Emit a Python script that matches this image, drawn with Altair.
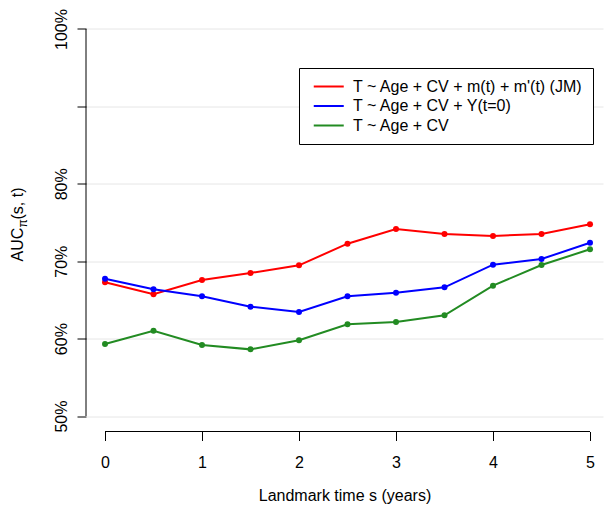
import altair as alt
import pandas as pd

landmark = [0, 0.5, 1, 1.5, 2, 2.5, 3, 3.5, 4, 4.5, 5]
auc_jm = [67.27, 65.72, 67.57, 68.48, 69.47, 72.26, 74.16, 73.51, 73.26, 73.51, 74.77]
auc_y0 = [67.74, 66.37, 65.47, 64.12, 63.44, 65.47, 65.93, 66.63, 69.55, 70.28, 72.39]
auc_base = [59.30, 61.02, 59.17, 58.61, 59.78, 61.85, 62.14, 63.01, 66.84, 69.51, 71.54]

series_names = [
    "T ~ Age + CV + m(t) + m'(t) (JM)",
    "T ~ Age + CV + Y(t=0)",
    "T ~ Age + CV",
]
series_colors = ["#ff0000", "#0000ff", "#228b22"]
y_ticks = [50, 60, 70, 80, 90, 100]
x_ticks = [0, 1, 2, 3, 4, 5]

rows = []
for name, vals in zip(series_names, [auc_jm, auc_y0, auc_base]):
    for s, v in zip(landmark, vals):
        rows.append({"s": s, "auc": v, "model": name})
df = pd.DataFrame(rows)

FONT = "Liberation Sans"
FS = 16
W, H = 517, 418

xscale = alt.Scale(domain=[-0.196, 5.134], nice=False, zero=False)
yscale = alt.Scale(domain=[48, 102], nice=False, zero=False)

color = alt.Color(
    "model:N",
    scale=alt.Scale(domain=series_names, range=series_colors),
    legend=alt.Legend(
        title=None,
        orient="none",
        legendX=213,
        legendY=54.5,
        fillColor="white",
        strokeColor="black",
        padding=10,
        symbolType="M-0.5,0L3.5,0",
        symbolSize=225,
        symbolStrokeWidth=2,
        labelFont=FONT,
        labelFontSize=FS,
        labelColor="black",
        rowPadding=2.5,
        labelOffset=27,
        labelLimit=400,
    ),
)

base = alt.Chart(df)

lines = base.mark_line(strokeWidth=2).encode(
    x=alt.X(
        "s:Q",
        scale=xscale,
        axis=alt.Axis(
            values=x_ticks,
            format="d",
            domain=False,
            grid=False,
            tickSize=9,
            tickColor="black",
            labelFont=FONT,
            labelFontSize=FS,
            labelColor="black",
            labelPadding=14,
            title="Landmark time s (years)",
            titleFont=FONT,
            titleFontSize=FS,
            titleFontWeight="normal",
            titleColor="black",
            titlePadding=17,
        ),
    ),
    y=alt.Y(
        "auc:Q",
        scale=yscale,
        axis=alt.Axis(
            values=y_ticks,
            domain=False,
            grid=True,
            gridColor="#e6e6e6",
            tickSize=9,
            tickColor="black",
            labelExpr="datum.value == 90 ? '' : format(datum.value, 'd') + '%'",
            labelAngle=270,
            labelAlign="center",
            labelBaseline="bottom",
            labelFont=FONT,
            labelFontSize=FS,
            labelColor="black",
            labelPadding=8,
            title=None,
        ),
    ),
    color=color,
)

points = base.mark_circle(size=36, opacity=1).encode(
    x="s:Q", y="auc:Q", color=alt.Color("model:N", scale=alt.Scale(domain=series_names, range=series_colors), legend=None)
)

axis_df = pd.DataFrame({"x0": [0], "x1": [5], "y0": [50], "y1": [100]})
yaxis_line = alt.Chart(axis_df).mark_rule(color="black", strokeWidth=1).encode(
    x=alt.value(0), y=alt.Y("y0:Q", scale=yscale), y2="y1:Q"
)
xaxis_line = alt.Chart(axis_df).mark_rule(color="black", strokeWidth=1).encode(
    y=alt.value(H), x=alt.X("x0:Q", scale=xscale), x2="x1:Q"
)

title_df = pd.DataFrame({"t": ["AUC"], "p": ["π"], "r": ["(s, t)"]})
t1 = alt.Chart(title_df).mark_text(angle=270, align="left", baseline="alphabetic", font=FONT, fontSize=FS, color="black").encode(
    text="t:N", x=alt.value(-63), y=alt.value(248)
)
t2 = alt.Chart(title_df).mark_text(angle=270, align="left", baseline="alphabetic", font=FONT, fontSize=12, color="black").encode(
    text="p:N", x=alt.value(-59), y=alt.value(214)
)
t3 = alt.Chart(title_df).mark_text(angle=270, align="left", baseline="alphabetic", font=FONT, fontSize=FS, color="black").encode(
    text="r:N", x=alt.value(-63), y=alt.value(206)
)

chart = (
    alt.layer(lines, points, yaxis_line, xaxis_line, t1, t2, t3)
    .properties(
        width=W,
        height=H,
        autosize=alt.AutoSizeParams(type="none"),
        padding={"left": 86, "top": 13.5, "right": 1, "bottom": 77.5},
    )
    .configure_view(stroke=None)
    .configure_axis(tickWidth=1)
)

chart.save("out.html", embed_options={"renderer": "svg", "actions": False})
